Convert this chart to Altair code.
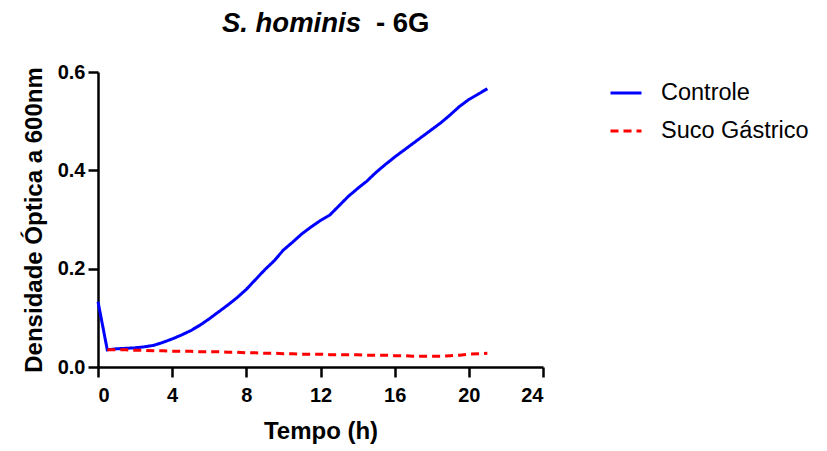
import altair as alt
import pandas as pd

# Time points (h)
time_ctrl = [0, 0.5, 1, 1.5, 2, 2.5, 3, 3.5, 4, 4.5, 5, 5.5, 6, 6.5, 7, 7.5, 8, 8.5, 9, 9.5,
             10, 10.5, 11, 11.5, 12, 12.5, 13, 13.5, 14, 14.5, 15, 15.5, 16, 16.5, 17, 17.5,
             18, 18.5, 19, 19.5, 20, 20.5, 21]
controle = [0.133, 0.035, 0.037, 0.038, 0.039, 0.041, 0.044, 0.050, 0.057, 0.065, 0.074, 0.085,
            0.098, 0.112, 0.126, 0.141, 0.158, 0.178, 0.198, 0.216, 0.238, 0.254, 0.271, 0.285,
            0.298, 0.309, 0.328, 0.347, 0.363, 0.378, 0.396, 0.412, 0.427, 0.441, 0.455, 0.469,
            0.483, 0.497, 0.513, 0.530, 0.544, 0.555, 0.566]

time_suco = [0.5, 1, 1.5, 2, 2.5, 3, 3.5, 4, 4.5, 5, 5.5, 6, 6.5, 7, 7.5, 8, 8.5, 9, 9.5,
             10, 10.5, 11, 11.5, 12, 12.5, 13, 13.5, 14, 14.5, 15, 15.5, 16, 16.5, 17, 17.5,
             18, 18.5, 19, 19.5, 20, 20.5, 21]
suco = [0.035, 0.035, 0.035, 0.034, 0.034, 0.033, 0.033, 0.032, 0.032, 0.032, 0.031, 0.031,
        0.031, 0.030, 0.030, 0.029, 0.029, 0.028, 0.028, 0.027, 0.027, 0.026, 0.026, 0.026,
        0.025, 0.025, 0.025, 0.025, 0.024, 0.024, 0.024, 0.023, 0.023, 0.022, 0.022, 0.022,
        0.022, 0.023, 0.024, 0.026, 0.027, 0.028]

series_names = ["Controle", "Suco Gástrico"]
series_colors = ["#0000FF", "#FF0000"]

x_ticks = [0, 4, 8, 12, 16, 20, 24]
y_ticks = [0, 0.2, 0.4, 0.6]

df = pd.concat([
    pd.DataFrame({"t": time_ctrl, "od": controle, "serie": series_names[0]}),
    pd.DataFrame({"t": time_suco, "od": suco, "serie": series_names[1]}),
])

FONT = "Liberation Sans"

legend_cfg = alt.Legend(
    title=None, orient="none", legendX=511, legendY=4,
    symbolType="stroke", symbolSize=961, symbolStrokeWidth=3,
    labelFontSize=23.5, labelFont=FONT, labelColor="black", labelOffset=18,
    rowPadding=9, labelLimit=300,
)

lines = alt.Chart(df).mark_line(strokeWidth=3).encode(
    x=alt.X("t:Q", scale=alt.Scale(domain=[0, 24], nice=False),
            axis=alt.Axis(values=x_ticks, title="Tempo (h)")),
    y=alt.Y("od:Q", scale=alt.Scale(domain=[0, 0.6], nice=False),
            axis=alt.Axis(values=y_ticks, format=".1f",
                          title="Densidade Óptica a 600nm")),
    color=alt.Color("serie:N", scale=alt.Scale(domain=series_names, range=series_colors),
                    legend=legend_cfg),
    strokeDash=alt.StrokeDash("serie:N",
                              scale=alt.Scale(domain=series_names, range=[[1, 0], [8, 5]]),
                              legend=legend_cfg),
)

title_data = alt.Data(values=[{"a": 1}])
title_italic = alt.Chart(title_data).mark_text(
    text="S. hominis", font=FONT, fontSize=27.5, fontWeight="bold", fontStyle="italic",
    align="right", baseline="alphabetic", color="black",
).encode(x=alt.value(263), y=alt.value(-40))
title_plain = alt.Chart(title_data).mark_text(
    text="- 6G", font=FONT, fontSize=27.5, fontWeight="bold",
    align="left", baseline="alphabetic", color="black",
).encode(x=alt.value(278), y=alt.value(-40))

chart = alt.layer(lines, title_italic, title_plain).properties(
    width=445, height=295,
    autosize=alt.AutoSizeParams(type="none"),
    padding={"left": 98, "top": 72, "right": 284, "bottom": 84},
).configure_view(stroke=None).configure_axis(
    domainColor="black", domainWidth=2.5, tickColor="black", tickWidth=2.5, tickSize=10,
    grid=False, labelFont=FONT, labelFontSize=20, labelFontWeight="bold", labelColor="black",
    titleFont=FONT, titleFontWeight="bold", titleColor="black", titleFontSize=24,
).configure_axisX(
    labelPadding=8, titlePadding=14,
).configure_axisY(
    labelPadding=3, titlePadding=11,
)

chart.save("out.html", embed_options={"renderer": "svg", "actions": False})
